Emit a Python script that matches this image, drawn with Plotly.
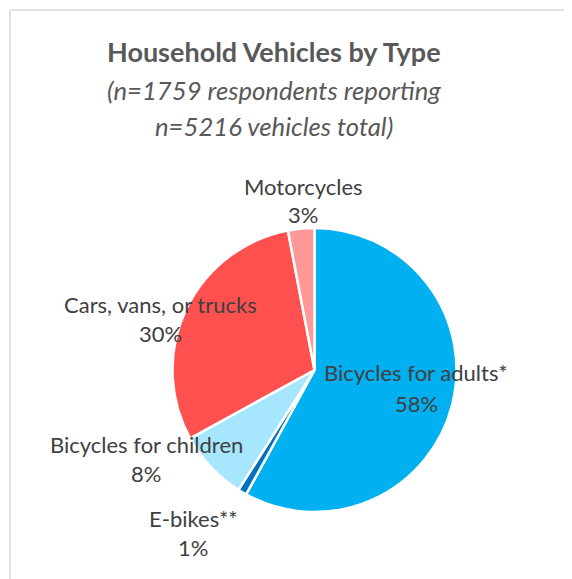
import plotly.graph_objects as go

# Data
categories = ["Bicycles for adults*", "E-bikes**", "Bicycles for children",
              "Cars, vans, or trucks", "Motorcycles"]
values = [58, 1, 8, 30, 3]
colors = ["#00B0F0", "#0070C0", "#A6E6FE", "#FF5050", "#FF9999"]

title_lines = ["<b>Household Vehicles by Type</b>",
               "<i>(n=1759 respondents reporting</i>",
               "<i>n=5216 vehicles total)</i>"]

W, H = 572, 579
OFF = 8  # page body margin

# label anchor positions in page pixels (name line, percent line)
label_pos = [(416, 373, 403), (193, 518, 547), (146, 444, 473),
             (160, 304, 333), (303, 186, 214)]

FONT = "Lato"


def px_x(x):
    return (x - OFF) / W


def px_y(y):
    return 1 - (y - OFF) / H


fig = go.Figure(go.Pie(
    labels=categories,
    values=values,
    sort=False,
    direction="clockwise",
    rotation=0,
    textinfo="none",
    hoverinfo="label+percent",
    marker=dict(colors=colors, line=dict(color="white", width=2.5)),
    domain=dict(x=[px_x(172.5), px_x(456.5)], y=[px_y(512), px_y(228)]),
    showlegend=False,
))

ann = []
title_specs = [(52, 27), (90, 25.7), (126, 25.7)]
for t, (py, fs) in zip(title_lines, title_specs):
    ann.append(dict(text=t, x=px_x(274), y=px_y(py), xref="paper", yref="paper",
                    xanchor="center", yanchor="middle", showarrow=False,
                    font=dict(family=FONT, size=fs, color="#595959")))

for cat, v, (px, py1, py2) in zip(categories, values, label_pos):
    ann.append(dict(text=cat, x=px_x(px), y=px_y(py1), xref="paper", yref="paper",
                    xanchor="center", yanchor="middle", showarrow=False,
                    font=dict(family=FONT, size=22, color="#404040")))
    ann.append(dict(text=f"{v}%", x=px_x(px), y=px_y(py2), xref="paper", yref="paper",
                    xanchor="center", yanchor="middle", showarrow=False,
                    font=dict(family=FONT, size=22, color="#404040")))

shapes = [
    dict(type="line", xref="paper", yref="paper", x0=px_x(10), x1=1.0,
         y0=px_y(10), y1=px_y(10), line=dict(color="#D9D9D9", width=1.5)),
    dict(type="line", xref="paper", yref="paper", x0=px_x(10), x1=px_x(10),
         y0=0, y1=px_y(10), line=dict(color="#D9D9D9", width=1.5)),
]

fig.update_layout(
    width=W, height=H,
    margin=dict(l=0, r=0, t=0, b=0),
    paper_bgcolor="white", plot_bgcolor="white",
    annotations=ann, shapes=shapes,
)

fig.write_html("out.html")
